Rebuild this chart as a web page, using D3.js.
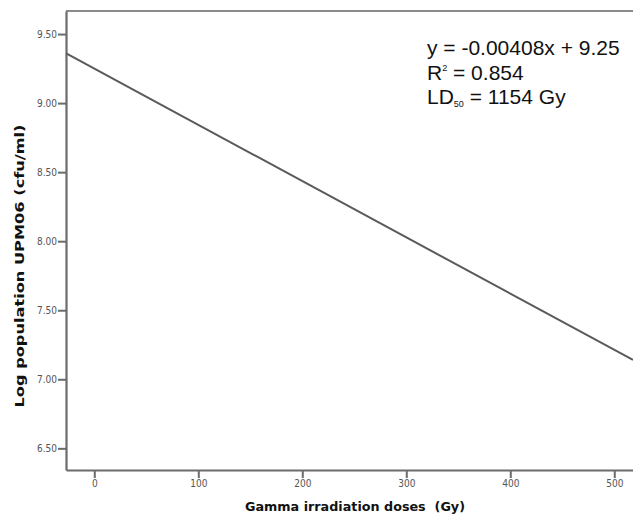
<!DOCTYPE html>
<html>
<head>
<meta charset="utf-8">
<script src="https://cdn.jsdelivr.net/npm/d3@7"></script>
<style>
  html, body { margin: 0; padding: 0; background: #fff; }
  svg { display: block; }
</style>
</head>
<body>
<svg id="chart" width="633" height="520"></svg>
<script>
// Data
const lineDoses = [-27, 518];          // Gy, ends of the fitted line
const lineLogPop = [9.36, 7.14];       // log cfu/ml at those ends
const xTicks = [0, 100, 200, 300, 400, 500];
const yTicks = [6.5, 7.0, 7.5, 8.0, 8.5, 9.0, 9.5];
const xDomain = [-27.2, 518];
const yDomain = [6.343, 9.667];
const annotationLines = ["y = -0.00408x + 9.25", "R2 = 0.854", "LD50 = 1154 Gy"];

const svg = d3.select("#chart");
const mLeft = 66, mRight = 633, mTop = 11, mBottom = 470;

const x = d3.scaleLinear().domain(xDomain).range([mLeft, mRight]);
const y = d3.scaleLinear().domain(yDomain).range([mBottom, mTop]);

const axisColor = "#6b6b6b";
const tickText = "#555";

// top frame line
svg.append("line").attr("x1", mLeft).attr("x2", mRight).attr("y1", mTop).attr("y2", mTop)
  .attr("stroke", "#8a8a8a").attr("stroke-width", 2);

// Y axis
const yAxis = svg.append("g").attr("transform", `translate(${mLeft},0)`)
  .call(d3.axisLeft(y).tickValues(yTicks).tickFormat(d3.format(".2f")).tickSize(8).tickSizeOuter(0));
yAxis.select(".domain").attr("stroke", axisColor).attr("stroke-width", 2.2);
yAxis.selectAll(".tick line").attr("stroke", axisColor).attr("stroke-width", 2);
yAxis.selectAll(".tick text").attr("fill", tickText).attr("font-family", "DejaVu Sans Condensed, DejaVu Sans, sans-serif")
  .attr("font-size", 10).attr("x", -9);

// X axis
const xAxis = svg.append("g").attr("transform", `translate(0,${mBottom})`)
  .call(d3.axisBottom(x).tickValues(xTicks).tickFormat(d3.format("d")).tickSize(8).tickSizeOuter(0));
xAxis.select(".domain").attr("stroke", axisColor).attr("stroke-width", 2.2);
xAxis.selectAll(".tick line").attr("stroke", axisColor).attr("stroke-width", 2);
xAxis.selectAll(".tick text").attr("fill", tickText).attr("font-family", "DejaVu Sans Condensed, DejaVu Sans, sans-serif")
  .attr("font-size", 10).attr("y", 10);

// Regression line
const pts = lineDoses.map((d, i) => [d, lineLogPop[i]]);
svg.append("path").datum(pts)
  .attr("d", d3.line().x(d => x(d[0])).y(d => y(d[1])))
  .attr("fill", "none").attr("stroke", "#5a5a5a").attr("stroke-width", 2);

// Axis titles
svg.append("text").attr("x", 355).attr("y", 511).attr("text-anchor", "middle")
  .attr("font-family", "DejaVu Sans, sans-serif").attr("font-weight", "bold").attr("font-size", 12.5)
  .attr("textLength", 220).attr("lengthAdjust", "spacingAndGlyphs")
  .attr("fill", "#111").attr("xml:space", "preserve").text("Gamma irradiation doses  (Gy)");

svg.append("text").attr("transform", "translate(24,266) rotate(-90)").attr("text-anchor", "middle")
  .attr("font-family", "DejaVu Sans, sans-serif").attr("font-weight", "bold").attr("font-size", 13)
  .attr("textLength", 283).attr("lengthAdjust", "spacingAndGlyphs")
  .attr("fill", "#111").text("Log population UPM06 (cfu/ml)");

// Annotation
const ann = svg.append("g").attr("font-family", "Liberation Sans, Arial, sans-serif").attr("font-size", 21).attr("fill", "#111");
ann.append("text").attr("x", 427).attr("y", 55).text(annotationLines[0]);
const t2 = ann.append("text").attr("x", 427).attr("y", 80);
t2.append("tspan").text("R");
t2.append("tspan").attr("font-size", 9).attr("dy", -9).text("2");
t2.append("tspan").attr("dy", 9).text(" = 0.854");
const t3 = ann.append("text").attr("x", 427).attr("y", 104);
t3.append("tspan").text("LD");
t3.append("tspan").attr("font-size", 9).attr("dy", 3).text("50");
t3.append("tspan").attr("dy", -3).text(" = 1154 Gy");
</script>
</body>
</html>
